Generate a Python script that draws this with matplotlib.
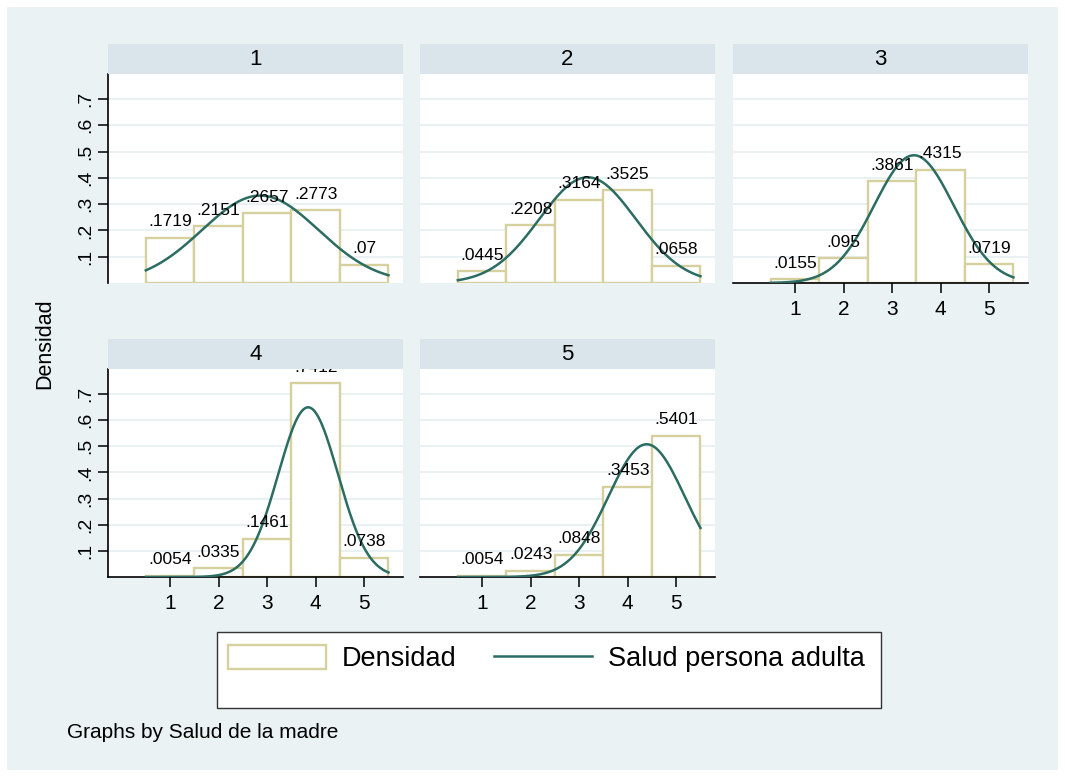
import numpy as np
import matplotlib
matplotlib.use('Agg')
import matplotlib.pyplot as plt
from matplotlib.patches import Rectangle, Patch
from matplotlib.lines import Line2D

plt.rcParams['font.family'] = ['Liberation Sans', 'DejaVu Sans']

# data (histogram densities by group, "Salud de la madre" = 1..5)
categories = [1, 2, 3, 4, 5]
panel_titles = ['1', '2', '3', '4', '5']
dens_1 = [.1719, .2151, .2657, .2773, .07]
dens_2 = [.0445, .2208, .3164, .3525, .0658]
dens_3 = [.0155, .095, .3861, .4315, .0719]
dens_4 = [.0054, .0335, .1461, .7412, .0738]
dens_5 = [.0054, .0243, .0848, .3453, .5401]
panels = [dens_1, dens_2, dens_3, dens_4, dens_5]

y_ticks = [.1, .2, .3, .4, .5, .6, .7]
y_ticklabels = ['.1', '.2', '.3', '.4', '.5', '.6', '.7']
x_ticklabels = ['1', '2', '3', '4', '5']

# colours (stata s2color look)
bg = '#EAF2F3'
strip = '#D9E5EA'
khaki = '#D6CF9E'
teal = '#2B6C63'
grid = '#E8F0F2'

W, H = 1065, 776
fig = plt.figure(figsize=(W / 100, H / 100), dpi=100)
fig.patch.set_facecolor('white')
fig.add_artist(Rectangle((7 / W, 1 - 770 / H), 1051 / W, 763 / H,
                         transform=fig.transFigure, facecolor=bg,
                         edgecolor='none', zorder=-10))

# pixel boxes of each plot region
col_left = [108, 420, 733]
row_box = [(74, 283), (369, 577)]
strip_h = 30
show_x = [False, False, True, True, True]


def fmt(v):
    s = '{:.4g}'.format(v)
    return s[1:] if s.startswith('0') else s


for i, vals in enumerate(panels):
    r, c = divmod(i, 3)
    l = col_left[c]
    t, b = row_box[r]
    ax = fig.add_axes([l / W, 1 - b / H, 295 / W, (b - t) / H])
    ax.set_facecolor('white')
    ax.set_xlim(-0.28, 5.8)
    ax.set_ylim(0, 0.795)
    for s in ax.spines.values():
        s.set_visible(False)

    ax.set_yticks(y_ticks)
    ax.set_axisbelow(True)
    ax.yaxis.grid(True, color=grid, lw=1.3)

    if c == 0:
        ax.spines['left'].set_visible(True)
        ax.spines['left'].set_linewidth(1.2)
        ax.set_yticklabels(y_ticklabels, fontsize=14, rotation=90, va='center')
        ax.tick_params(axis='y', length=7, width=1.1, pad=3)
    else:
        ax.tick_params(axis='y', left=False, labelleft=False)

    ax.set_xticks(categories)
    if show_x[i]:
        ax.spines['bottom'].set_visible(True)
        ax.spines['bottom'].set_linewidth(1.2)
        ax.set_xticklabels(x_ticklabels, fontsize=15)
        ax.tick_params(axis='x', length=7, width=1.1, pad=5)
    else:
        ax.tick_params(axis='x', bottom=False, labelbottom=False)

    bars = ax.bar(categories, vals, width=1, facecolor='white',
                  edgecolor=khaki, linewidth=1.7, zorder=2)
    labs = ax.bar_label(bars, labels=[fmt(v) for v in vals], padding=6,
                        fontsize=12.5, zorder=4)
    for lab in labs:
        lab.set_clip_on(True)
        lab.set_clip_box(ax.bbox)

    # normal density fitted to the histogram
    cats = np.array(categories, dtype=float)
    p = np.array(vals) / np.sum(vals)
    mu = np.sum(p * cats)
    sd = np.sqrt(np.sum(p * (cats - mu) ** 2))
    xs = np.linspace(0.5, 5.5, 300)
    ys = np.exp(-0.5 * ((xs - mu) / sd) ** 2) / (sd * np.sqrt(2 * np.pi))
    ax.plot(xs, ys, color=teal, lw=1.8, zorder=3)

    # strip title
    hfrac = strip_h / (b - t)
    ax.add_patch(Rectangle((0, 1), 1, hfrac, transform=ax.transAxes,
                           facecolor=strip, edgecolor='none', clip_on=False,
                           zorder=5))
    ax.text(0.5, 1 + hfrac / 2, panel_titles[i], transform=ax.transAxes,
            ha='center', va='center', fontsize=16, zorder=6)

fig.text(45 / W, 1 - 344 / H, 'Densidad', rotation=90, ha='center',
         va='center', fontsize=15.5)

# legend box
fig.add_artist(Rectangle((217 / W, 1 - 708 / H), 664 / W, 76 / H,
                         transform=fig.transFigure, facecolor='white',
                         edgecolor='#333333', lw=1.0))
handles = [Patch(facecolor='white', edgecolor=khaki, lw=1.7),
           Line2D([], [], color=teal, lw=1.8)]
fig.legend(handles=handles, labels=['Densidad', 'Salud persona adulta'],
           loc='upper left', bbox_to_anchor=(228 / W, 1 - 645 / H), ncol=2,
           frameon=False, fontsize=19.5, handlelength=3.6, handleheight=1.0,
           handletextpad=0.6, columnspacing=1.4, borderpad=0,
           borderaxespad=0)

fig.text(67 / W, 1 - 733 / H, 'Graphs by Salud de la madre', va='center',
         fontsize=15)

fig.savefig('out.png', dpi=100)
